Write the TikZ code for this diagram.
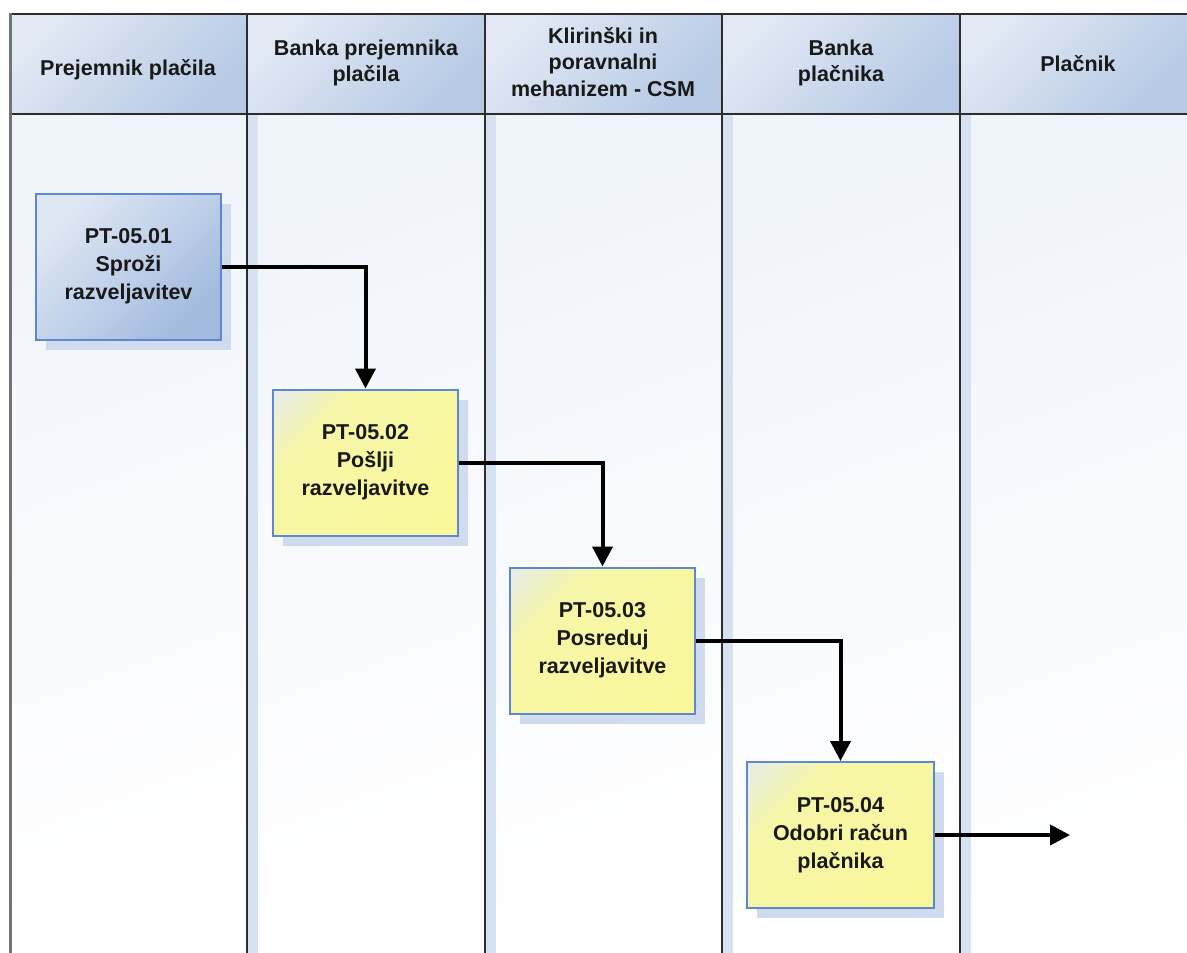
\documentclass[tikz,border=0pt]{standalone}
\usepackage{fontspec}
\setmainfont{Liberation Sans}
\usetikzlibrary{arrows.meta,shadows}
\definecolor{hdrL}{RGB}{226,233,245}
\definecolor{hdrR}{RGB}{182,201,228}
\definecolor{laneTop}{RGB}{240,244,251}
\definecolor{stripc}{RGB}{214,225,241}
\definecolor{shadowc}{RGB}{208,220,238}
\definecolor{boxedge}{RGB}{95,135,205}
\definecolor{blueL}{RGB}{222,231,244}
\definecolor{blueR}{RGB}{162,186,222}
\definecolor{yelL}{RGB}{230,236,240}
\definecolor{yelM}{RGB}{246,246,168}
\definecolor{yelR}{RGB}{250,247,148}
\definecolor{txt}{RGB}{25,25,25}
\definecolor{divc}{RGB}{45,45,45}
\pgfdeclarehorizontalshading{yelshade}{100bp}{color(0bp)=(yelL); color(14bp)=(yelL); color(32bp)=(yelM); color(100bp)=(yelR)}
\tikzset{
  proc/.style={draw=boxedge, line width=2pt, minimum width=185pt, minimum height=146pt,
    inner sep=0pt, align=center, font=\bfseries\fontsize{21.5}{28}\selectfont, text=txt,
    drop shadow={shadow xshift=10pt, shadow yshift=-10pt, fill=shadowc, opacity=1}},
  bluebox/.style={proc, top color=blueL, bottom color=blueR, shading angle=45},
  yelbox/.style={proc, shading=yelshade, shading angle=-45},
  hdr/.style={align=center, font=\bfseries\fontsize{21.5}{26.5}\selectfont, text=txt},
  hdrcell/.style={top color=hdrL, bottom color=hdrR, shading angle=45},
  lanebody/.style={top color=laneTop, bottom color=white, shading angle=20},
  divider/.style={draw=divc, line width=2pt},
  flow/.style={line width=4pt, -{Triangle[length=20pt,width=20pt]}}
}
\begin{document}
\begin{tikzpicture}[x=1pt,y=-1pt]
\useasboundingbox (0,0) rectangle (1187,953);
\fill[white] (0,0) rectangle (1187,953);
% lane bodies
\foreach \a/\b in {10/247,247/485,485/722,722/960,960/1187}{
  \shade[lanebody] (\a,114) rectangle (\b,953);
}
\foreach \a in {247,485,722,960}{
  \fill[stripc] (\a,114) rectangle (\a+11,953);
}
% header cells
\foreach \a/\b in {10/247,247/485,485/722,722/960,960/1187}{
  \shade[hdrcell] (\a,14) rectangle (\b,114);
}
% grid lines
\draw[divider] (10,14) -- (1187,14);
\draw[divider] (10,114) -- (1187,114);
\draw[draw=black!55, line width=3pt] (10,13) -- (10,953);
\foreach \a in {247,485,722,960}{
  \draw[divider] (\a,14) -- (\a,953);
}
% header labels
\node[hdr] (h1) at (128,70) {Prejemnik plačila};
\node[hdr] (h2) at (366,63) {Banka prejemnika\\plačila};
\node[hdr] (h3) at (603,62) {Klirinški in\\poravnalni\\mehanizem - CSM};
\node[hdr] (h4) at (841,63) {Banka\\plačnika};
\node[hdr] (h5) at (1078,64) {Plačnik};
% process boxes
\node[bluebox] (b1) at (128.5,266.5) {PT-05.01\\Sproži\\razveljavitev};
\node[yelbox] (b2) at (365.5,462.5) {PT-05.02\\Pošlji\\razveljavitve};
\node[yelbox] (b3) at (602.5,640.5) {PT-05.03\\Posreduj\\razveljavitve};
\node[yelbox, minimum width=187pt] (b4) at (840.5,835) {PT-05.04\\Odobri račun\\plačnika};
\coordinate (out) at (1070,835);
% connectors
\draw[flow] (b1.east) -| (b2.north);
\draw[flow] (b2.east) -| (b3.north);
\draw[flow] (b3.east) -| (b4.north);
\draw[flow] (b4.east) -- (out);
\end{tikzpicture}
\end{document}
